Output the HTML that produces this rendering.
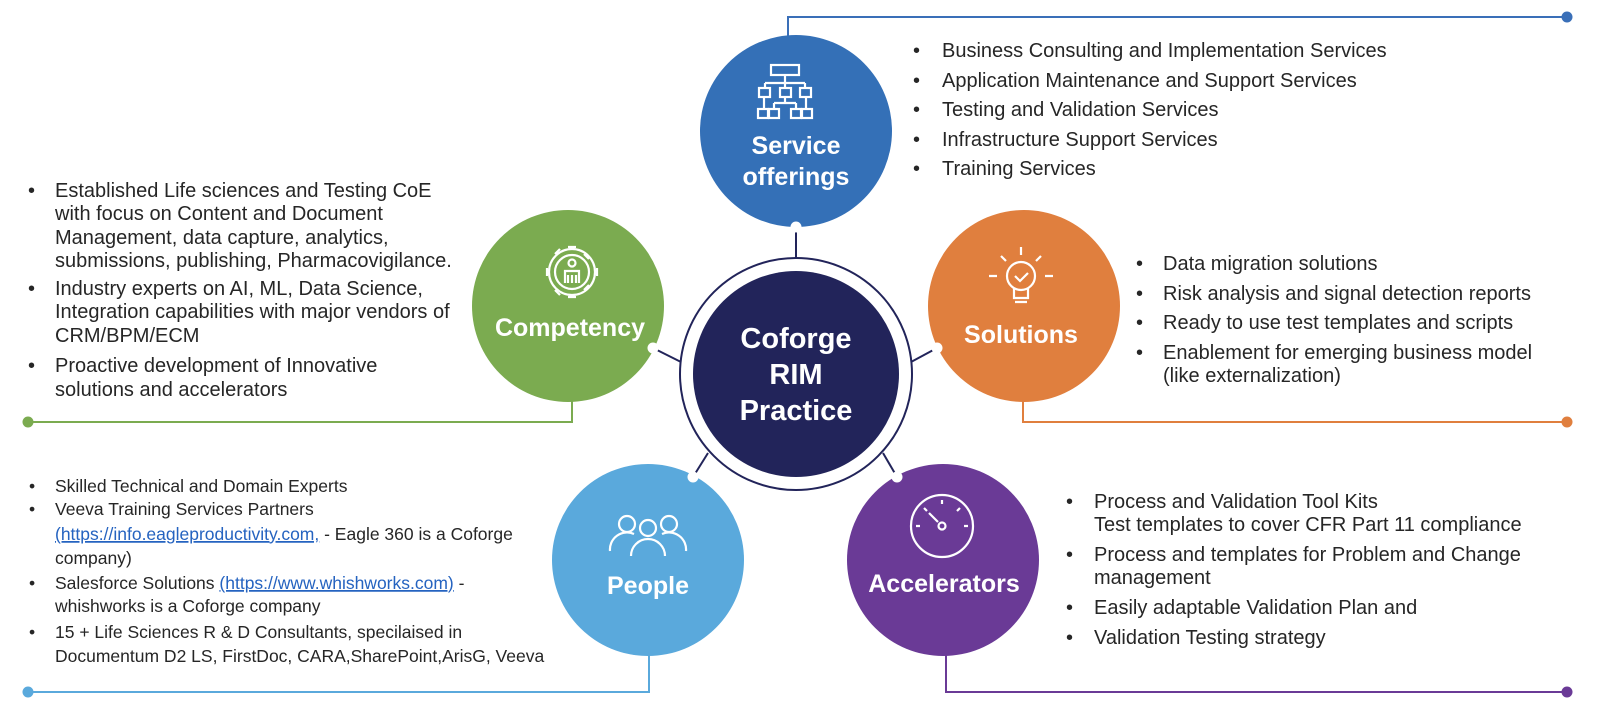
<!DOCTYPE html>
<html><head><meta charset="utf-8"><style>
html,body{margin:0;padding:0;background:#fff;}
svg{display:block;}
.t{font-family:"Liberation Sans",Arial,sans-serif;font-size:20px;fill:#262626;}
.p{font-family:"Liberation Sans",Arial,sans-serif;font-size:17.5px;fill:#262626;}
.h{font-family:"Liberation Sans",Arial,sans-serif;font-weight:bold;fill:#fff;text-anchor:middle;}
.lk{fill:#2563c0;text-decoration:underline;}
</style></head><body>
<svg width="1600" height="719" viewBox="0 0 1600 719" xmlns="http://www.w3.org/2000/svg">
<g fill="none" stroke-width="2">
<polyline points="788,40 788,17 1567,17" stroke="#3a6fb8"/>
<polyline points="572,398 572,422 28,422" stroke="#7bab50"/>
<polyline points="1023,398 1023,422 1567,422" stroke="#e07f3e"/>
<polyline points="649,650 649,692 28,692" stroke="#5aa9dc"/>
<polyline points="946,650 946,692 1567,692" stroke="#6a3a96"/>
</g>
<circle cx="1567" cy="17" r="5.5" fill="#3a6fb8"/>
<circle cx="28" cy="422" r="5.5" fill="#7bab50"/>
<circle cx="1567" cy="422" r="5.5" fill="#e07f3e"/>
<circle cx="28" cy="692" r="5.5" fill="#5aa9dc"/>
<circle cx="1567" cy="692" r="5.5" fill="#6a3a96"/>
<g stroke="#22245a" stroke-width="2">
<line x1="796" y1="227" x2="796" y2="259"/>
<line x1="653" y1="348" x2="681" y2="362"/>
<line x1="937" y1="348" x2="911" y2="362"/>
<line x1="693" y1="477" x2="708" y2="453"/>
<line x1="897" y1="477" x2="883" y2="453"/>
</g>
<circle cx="796" cy="131" r="96" fill="#3470b7"/>
<circle cx="568" cy="306" r="96" fill="#7bab50"/>
<circle cx="1024" cy="306" r="96" fill="#e07f3e"/>
<circle cx="648" cy="560" r="96" fill="#5aa9dc"/>
<circle cx="943" cy="560" r="96" fill="#6a3a96"/>
<circle cx="796" cy="374" r="116" fill="#fff" stroke="#22245a" stroke-width="2"/>
<circle cx="796" cy="374" r="103" fill="#22245a"/>
<g fill="#fff">
<circle cx="796" cy="227" r="5.5"/><circle cx="653" cy="348" r="5.5"/><circle cx="937" cy="348" r="5.5"/>
<circle cx="693" cy="477" r="5.5"/><circle cx="897" cy="477" r="5.5"/>
</g>
<g fill="none" stroke="#fff" stroke-width="2.2">
<g transform="translate(3,3)">
<rect x="768" y="62" width="28" height="10"/>
<path d="M782 72 V80 M762 80 H802 M762 80 V85 M782 80 V85 M802 80 V85"/>
<rect x="756" y="85" width="11" height="9"/><rect x="777" y="85" width="11" height="9"/><rect x="797" y="85" width="11" height="9"/>
<path d="M761 94 V106 M782 94 V100 M771 100 H793 M771 100 V106 M793 100 V106 M803 94 V106"/>
<rect x="755" y="106" width="10" height="9"/><rect x="766" y="106" width="10" height="9"/><rect x="788" y="106" width="10" height="9"/><rect x="799" y="106" width="10" height="9"/>
</g>
<g transform="translate(12,13)">
<circle cx="560" cy="259" r="23"/><circle cx="560" cy="259" r="17"/>
<path d="M556 234 h8 M556 284 h8 M535 255 v8 M585 255 v8 M543 241 l5 -5 M572 277 l5 -5 M543 277 l5 5 M572 241 l5 5"/>
<circle cx="560" cy="250" r="3.5"/><path d="M553 270 V258 h14 v12 M556 262 v8 M560 262 v8 M564 262 v8"/>
</g>
<g transform="translate(21,5)">
<circle cx="1000" cy="271" r="14"/><path d="M993 283 v10 h14 v-10 M994 297 h12"/>
<path d="M994 271 l5 5 l8 -8"/>
<path d="M1000 242 v8 M980 251 l5 5 M1020 251 l-5 5 M968 271 h8 M1024 271 h8"/>
</g>
<g transform="translate(12,6)">
<circle cx="615" cy="518" r="8"/><circle cx="636" cy="522" r="8"/><circle cx="657" cy="518" r="8"/>
<path d="M598 545 a17 17 0 0 1 24 -17 M674 545 a17 17 0 0 0 -24 -17 M619 550 a17 17 0 0 1 34 0"/>
</g>
<g transform="translate(18,9)">
<circle cx="924" cy="517" r="31"/><circle cx="924" cy="517" r="3.5"/>
<path d="M920 513 l-9 -9 M898 517 h4 M946 517 h4 M924 491 v4 M906 499 l3 3 M942 499 l-3 3"/>
</g>
</g>
<text class="h" x="796" y="154" font-size="25">Service</text>
<text class="h" x="796" y="185" font-size="25">offerings</text>
<text class="h" x="570" y="336" font-size="25">Competency</text>
<text class="h" x="1021" y="343" font-size="25">Solutions</text>
<text class="h" x="648" y="594" font-size="25">People</text>
<text class="h" x="944" y="592" font-size="25">Accelerators</text>
<text class="h" x="796" y="348" font-size="29">Coforge</text>
<text class="h" x="796" y="384" font-size="29">RIM</text>
<text class="h" x="796" y="420" font-size="29">Practice</text>
<g class="t">
<text x="913" y="57">•</text><text x="942" y="57">Business Consulting and Implementation Services</text>
<text x="913" y="87">•</text><text x="942" y="87">Application Maintenance  and Support Services</text>
<text x="913" y="116">•</text><text x="942" y="116">Testing and Validation Services</text>
<text x="913" y="146">•</text><text x="942" y="146">Infrastructure Support Services</text>
<text x="913" y="175">•</text><text x="942" y="175">Training Services</text>
</g>
<g class="t">
<text x="28" y="197">•</text><text x="55" y="197">Established Life sciences and Testing CoE</text>
<text x="55" y="220">with focus on Content and Document</text>
<text x="55" y="244">Management, data capture, analytics,</text>
<text x="55" y="267">submissions, publishing, Pharmacovigilance.</text>
<text x="28" y="295">•</text><text x="55" y="295">Industry experts on AI, ML, Data Science,</text>
<text x="55" y="318">Integration capabilities with major vendors of</text>
<text x="55" y="342">CRM/BPM/ECM</text>
<text x="28" y="372">•</text><text x="55" y="372">Proactive development of Innovative</text>
<text x="55" y="396">solutions and accelerators</text>
</g>
<g class="t">
<text x="1136" y="270">•</text><text x="1163" y="270">Data migration solutions</text>
<text x="1136" y="300">•</text><text x="1163" y="300">Risk analysis and signal detection reports</text>
<text x="1136" y="329">•</text><text x="1163" y="329">Ready to use test templates and scripts</text>
<text x="1136" y="359">•</text><text x="1163" y="359">Enablement for emerging business model</text>
<text x="1163" y="382">(like externalization)</text>
</g>
<g class="t">
<text x="1066" y="508">•</text><text x="1094" y="508">Process and Validation Tool Kits</text>
<text x="1094" y="531">Test templates to cover CFR Part 11 compliance</text>
<text x="1066" y="561">•</text><text x="1094" y="561">Process and templates for Problem and Change</text>
<text x="1094" y="584">management</text>
<text x="1066" y="614">•</text><text x="1094" y="614">Easily adaptable Validation Plan and</text>
<text x="1066" y="644">•</text><text x="1094" y="644">Validation Testing strategy</text>
</g>
<g class="p">
<text x="29" y="492">•</text><text x="55" y="492">Skilled Technical and Domain Experts</text>
<text x="29" y="515">•</text><text x="55" y="515">Veeva Training Services Partners</text>
<text x="55" y="540"><tspan class="lk">(https://info.eagleproductivity.com,</tspan> - Eagle 360 is a Coforge</text>
<text x="55" y="564">company)</text>
<text x="29" y="589">•</text><text x="55" y="589">Salesforce Solutions <tspan class="lk">(https://www.whishworks.com)</tspan> -</text>
<text x="55" y="612">whishworks is a Coforge company</text>
<text x="29" y="638">•</text><text x="55" y="638">15 + Life Sciences  R &amp; D Consultants, specilaised in</text>
<text x="55" y="662">Documentum D2 LS, FirstDoc, CARA,SharePoint,ArisG, Veeva</text>
</g>
</svg>
</body></html>
